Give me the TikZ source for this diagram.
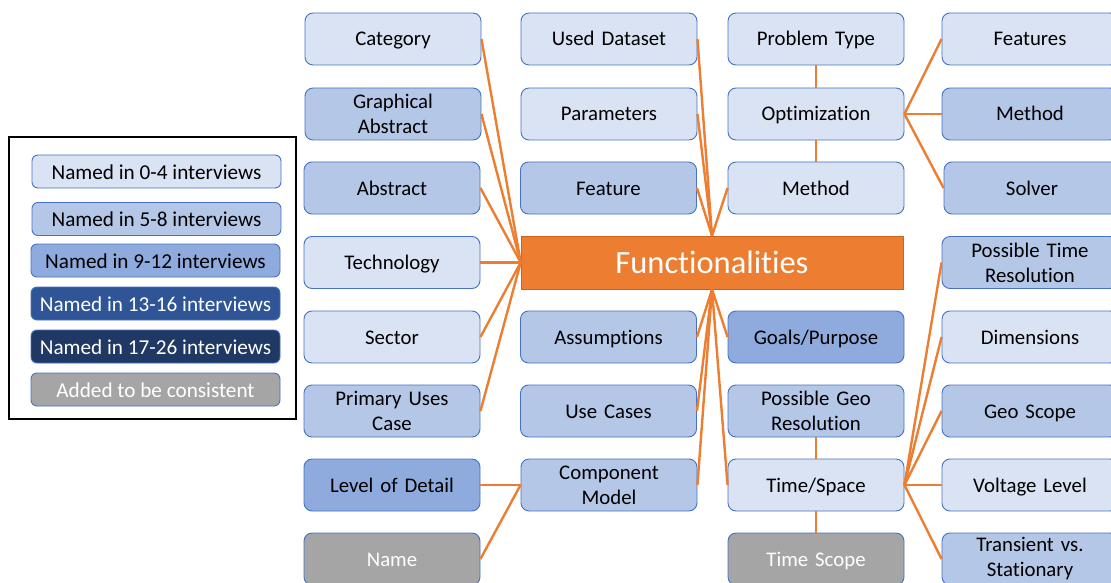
\documentclass[tikz,border=0pt]{standalone}
\usepackage{fontspec}
\setmainfont{Carlito}[Ligatures={NoCommon}]
\definecolor{bord}{HTML}{4472C4}
\definecolor{lvA}{HTML}{DAE3F3}
\definecolor{lvB}{HTML}{B4C7E7}
\definecolor{lvC}{HTML}{8FAADC}
\definecolor{lvD}{HTML}{2F5597}
\definecolor{lvE}{HTML}{203864}
\definecolor{lvG}{HTML}{A5A5A5}
\definecolor{orng}{HTML}{ED7D31}
\definecolor{orngdark}{HTML}{C9651F}
\begin{document}
\begin{tikzpicture}[x=1pt,y=-1pt,
  box/.style={rectangle,rounded corners=8pt,draw=bord,line width=0.9pt,
    minimum width=176pt,minimum height=52pt,inner sep=0pt,align=center,
    text width=172pt,font=\fontsize{20.8}{25}\selectfont,text=black},
  one/.style={text height=19pt,text depth=5pt},
  cA/.style={box,fill=lvA},
  cB/.style={box,fill=lvB},
  cC/.style={box,fill=lvC},
  cG/.style={box,fill=lvG,text=white},
  leg/.style={rectangle,rounded corners=6pt,draw=bord,line width=0.9pt,
    minimum width=249pt,minimum height=33pt,inner sep=0pt,align=center,
    text height=19pt,text depth=4pt,
    font=\fontsize{21.2}{25}\selectfont,text=black},
  conn/.style={draw=orng,line width=2.4pt}
]
\useasboundingbox (0,0) rectangle (1111,583);
% legend
\node[draw=black,line width=2pt,minimum width=287pt,minimum height=282pt,inner sep=0pt] (legframe) at (152.5,278) {};
\node[leg,fill=lvA] (l1) at (156.5,171.5) {Named in 0-4 interviews};
\node[leg,fill=lvB] (l2) at (156.5,219) {Named in 5-8 interviews};
\node[leg,fill=lvC] (l3) at (155.5,260.5) {Named in 9-12 interviews};
\node[leg,fill=lvD,text=white] (l4) at (155.5,303.5) {Named in 13-16 interviews};
\node[leg,fill=lvE,text=white] (l5) at (155.5,346.5) {Named in 17-26 interviews};
\node[leg,fill=lvG,text=white] (l6) at (155.5,389.5) {Added to be consistent};
% column 1
\node[cA,one] (cat) at (393,39) {Category};
\node[cB] (gabs) at (393,114) {Graphical\\Abstract};
\node[cB,one] (abs) at (392,188) {Abstract};
\node[cA,one] (tech) at (392,262.5) {Technology};
\node[cA,one] (sec) at (392,337) {Sector};
\node[cB] (puc) at (392,411) {Primary Uses\\Case};
\node[cC,one] (lod) at (392,485) {Level of Detail};
\node[cG,one] (name) at (392,559) {Name};
% column 2
\node[cA,one] (uds) at (609,39) {Used Dataset};
\node[cA,one] (par) at (609,114) {Parameters};
\node[cB,one] (feat) at (608.5,188) {Feature};
\node[rectangle,fill=orng,draw=orngdark,line width=0.6pt,minimum width=382pt,minimum height=53pt,inner sep=0pt,text=white,text height=26pt,text depth=5pt,font=\fontsize{32.5}{36}\selectfont] (F) at (712,262.5) {Functionalities};
\node[cB,one] (ass) at (608.5,337) {Assumptions};
\node[cB,one] (uc) at (608.5,411) {Use Cases};
\node[cB] (cm) at (609,485) {Component\\Model};
% column 3
\node[cA,one] (pt) at (816,39) {Problem Type};
\node[cA,one] (opt) at (816,114) {Optimization};
\node[cA,one] (meth) at (816,188) {Method};
\node[cC,one] (goal) at (816,337) {Goals/Purpose};
\node[cB] (pgr) at (816,411) {Possible Geo\\Resolution};
\node[cA,one] (ts) at (816,485) {Time/Space};
\node[cG,one] (tsc) at (816,559) {Time Scope};
% column 4
\node[cA,one] (feats) at (1030,39) {Features};
\node[cB,one] (meth2) at (1030,114) {Method};
\node[cB,one] (solv) at (1032,188) {Solver};
\node[cB] (ptr) at (1030,262.5) {Possible Time\\Resolution};
\node[cA,one] (dim) at (1030,337) {Dimensions};
\node[cB,one] (geo) at (1030,411) {Geo Scope};
\node[cA,one] (volt) at (1030,485) {Voltage Level};
\node[cB] (trans) at (1030,559) {Transient vs.\\Stationary};
% connectors
\foreach \n in {cat,gabs,abs,tech,sec,puc} \draw[conn] (\n.east) -- (F.west);
\foreach \n in {uds,par,feat} \draw[conn] (\n.east) -- (F.north);
\draw[conn] (meth.west) -- (F.north);
\foreach \n in {ass,uc,cm} \draw[conn] (\n.east) -- (F.south);
\foreach \n in {goal,ts} \draw[conn] (\n.west) -- (F.south);
\draw[conn] (pt.south) -- (opt.north);
\draw[conn] (opt.south) -- (meth.north);
\foreach \n in {feats,meth2,solv} \draw[conn] (opt.east) -- (\n.west);
\draw[conn] (pgr.south) -- (ts.north);
\draw[conn] (ts.south) -- (tsc.north);
\foreach \n in {ptr,dim,geo,volt,trans} \draw[conn] (ts.east) -- (\n.west);
\draw[conn] (cm.west) -- (lod.east);
\draw[conn] (cm.west) -- (name.east);
\end{tikzpicture}
\end{document}
